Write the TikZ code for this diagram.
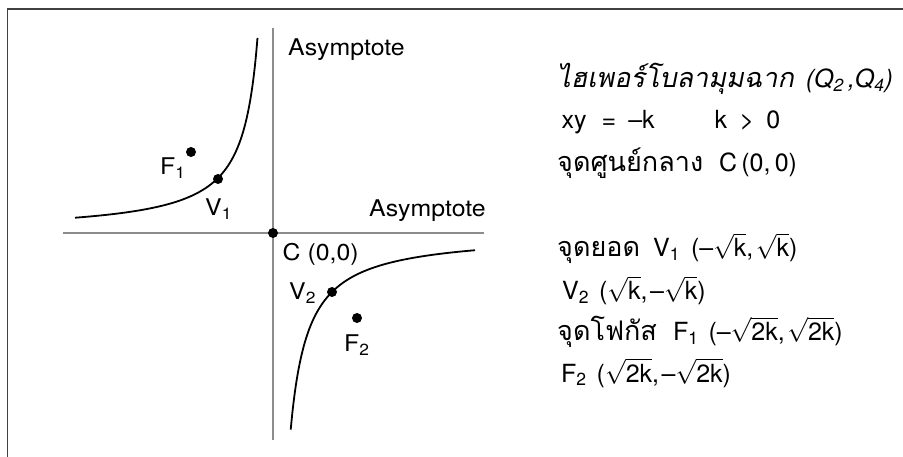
\documentclass[tikz,border=0pt]{standalone}
\usepackage{amsmath}
\usepackage{fontspec}
\setmainfont{TeX Gyre Heros}
\newfontfamily\lblfont[FakeStretch=1.08]{TeX Gyre Heros}
\newfontfamily\thaifont[Script=Thai]{Loma}
\newfontfamily\thaiit[Script=Thai,FakeSlant=0.2]{Loma}
\newcommand{\sq}[1]{$\sqrt{\text{#1}}$}
\newcommand{\thai}[1]{{\fontsize{27}{30}\selectfont\thaifont #1}}
\newcommand{\thaiI}[1]{{\fontsize{27}{30}\selectfont\thaiit #1}}
\begin{document}
\begin{tikzpicture}[x=1pt,y=-1pt,
  frame/.style={draw=black!75,line width=1.4pt},
  axis/.style={draw=black!45,line width=1.6pt},
  curve/.style={draw=black,line width=1.8pt},
  dot/.style={circle,fill=black,inner sep=0pt,minimum size=10pt},
  lb/.style={inner sep=0pt,anchor=base west,font=\fontsize{23}{26}\selectfont\lblfont},
  rt/.style={inner sep=0pt,anchor=base west,font=\fontsize{25}{28}\selectfont}]
\useasboundingbox (0,0) rectangle (903,457);
\draw[frame] (903,9) -- (7.5,9) -- (7.5,457);
% axes
\coordinate (vt) at (273,28);
\coordinate (vb) at (273,440);
\coordinate (hl) at (63,233);
\coordinate (hr) at (484,233);
\draw[axis] (vt) -- (vb);
\draw[axis] (hl) -- (hr);
% hyperbola branches
\draw[curve] plot[domain=-198:-15.5,samples=120,smooth] ({273+\x},{233+3025/\x});
\draw[curve] plot[domain=17.7:202,samples=120,smooth] ({273+\x},{233+3481/\x});
% points
\node[dot] (C) at (273,233) {};
\node[dot] (V1) at (218,179) {};
\node[dot] (F1) at (191,152) {};
\node[dot] (V2) at (332,292) {};
\node[dot] (F2) at (357,318) {};
% labels
\node[lb] (asy1) at (288,56) {Asymptote};
\node[lb] (asy2) at (369,216.5) {Asymptote};
\node[lb] (lF1) at (160,174.5) {F\textsubscript{1}};
\node[lb] (lV1) at (205,216) {V\textsubscript{1}};
\node[lb] (lC) at (282.5,260.5) {C (0,0)};
\node[lb] (lV2) at (289,300) {V\textsubscript{2}};
\node[lb] (lF2) at (344,352) {F\textsubscript{2}};
% right text
\node[rt] (t1) at (557,87.5) {\thaiI{ไฮเพอร์โบลามุมฉาก}\hspace{12pt}\textit{(Q\textsubscript{2}\,,Q\textsubscript{4})}};
\node[rt] (t2) at (561.5,128.5) {xy\hspace{15pt}=\hspace{12pt}–k\hspace{60pt}k\hspace{12.5pt}>\hspace{12pt}0};
\node[rt] (t3) at (557,171.5) {\thai{จุดศูนย์กลาง}\hspace{16pt}C\,(0,\,0)};
\node[rt] (t4) at (557,257) {\thai{จุดยอด}\hspace{13pt}V\textsubscript{1}\hspace{11pt}(–\sq{k},\hspace{2.5pt}\sq{k})};
\node[rt] (t5) at (562,300) {V\textsubscript{2}\hspace{10pt}(\sq{k},\hspace{2.5pt}–\sq{k})};
\node[rt] (t6) at (557,340.5) {\thai{จุดโฟกัส}\hspace{16pt}F\textsubscript{1}\hspace{10pt}(–\sq{2k},\hspace{2.5pt}\sq{2k})};
\node[rt] (t7) at (561,382) {F\textsubscript{2}\hspace{10pt}(\sq{2k},\hspace{2.5pt}–\sq{2k})};
\end{tikzpicture}
\end{document}
